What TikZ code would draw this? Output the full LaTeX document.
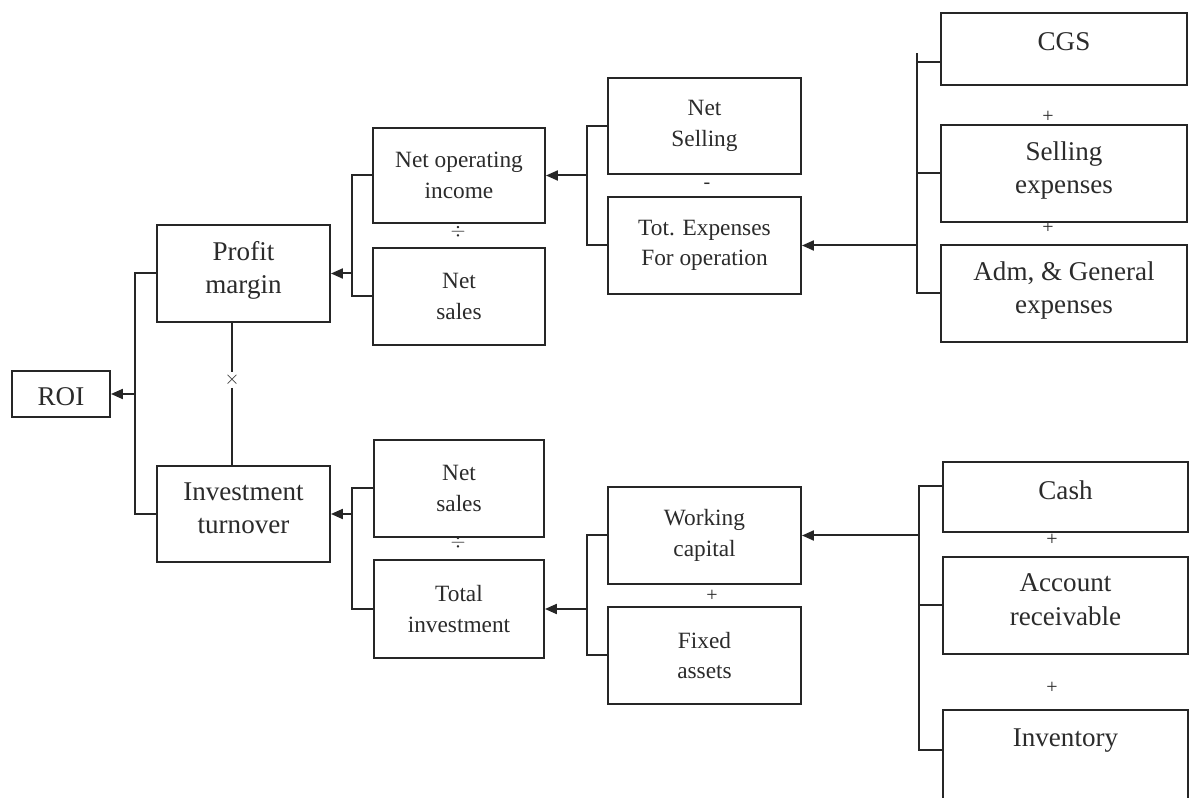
\documentclass[tikz,border=0pt]{standalone}
\usepackage{fontspec}
\setmainfont{Liberation Serif}
\usetikzlibrary{arrows.meta,calc}
\definecolor{linecol}{HTML}{262626}
\definecolor{txtcol}{HTML}{2B2B2B}
\begin{document}
\begin{tikzpicture}[x=0.75pt,y=-0.75pt,
  box/.style={draw=linecol, line width=1.4pt, rectangle, inner sep=0pt,
    align=center, text=txtcol, font=\fontsize{17.5}{23}\selectfont},
  bigbox/.style={box, font=\fontsize{20.3}{25}\selectfont, text depth=9pt},
  sz/.style n args={2}{minimum width=#1*0.75pt, minimum height=#2*0.75pt},
  wire/.style={draw=linecol, line width=1.5pt},
  arr/.style={wire, -{Triangle[length=9pt,width=7.5pt]}},
  op/.style={text=txtcol, inner sep=1pt, font=\fontsize{15}{15}\selectfont}]
\useasboundingbox (0,0) rectangle (1190,798);
\clip (0,0) rectangle (1190,798);
\fill[white] (0,0) rectangle (1190,798);

% ---- left column
\node[bigbox, sz={98}{46}, text depth=0pt, text height=17pt] (roi) at (61,394) {ROI};
\node[bigbox, sz={173}{97}] (pm)  at (243.5,273.5) {Profit\\margin};
\node[bigbox, sz={173}{96}] (it)  at (243.5,514)   {Investment\\turnover};

% ---- profit margin branch
\node[box, sz={172}{95}] (noi) at (459,175.5) {Net operating\\income};
\node[box, sz={172}{97}] (nsa) at (459,296.5) {Net\\sales};
\node[box, sz={193}{96}] (nsel) at (704.5,126) {Net\\Selling};
\node[box, sz={193}{97}] (tex) at (704.5,245.5) {Tot. Expenses\\For operation};
\node[bigbox, sz={246}{72}, text depth=10.7pt] (cgs) at (1064,49) {CGS};
\node[bigbox, sz={246}{97}] (sex) at (1064,173.5)  {Selling\\expenses};
\node[bigbox, sz={246}{97}] (adm) at (1064,293.5)  {Adm, \& General\\expenses};

% ---- investment turnover branch
\node[box, sz={170}{97}] (nsb) at (459,488.5) {Net\\sales};
\node[box, sz={170}{98}] (ti)  at (459,609)   {Total\\investment};
\node[box, sz={193}{97}] (wc)  at (704.5,535.5) {Working\\capital};
\node[box, sz={193}{97}] (fa)  at (704.5,655.5) {Fixed\\assets};
\node[bigbox, sz={245}{70}, text depth=10.7pt] (cash) at (1065.5,497) {Cash};
\node[bigbox, sz={245}{97}] (ar)   at (1065.5,605.5) {Account\\receivable};
\node[box, sz={245}{130}, anchor=north] (inv) at (1065.5,709) {};
\node[text=txtcol, font=\fontsize{20.3}{25}\selectfont] (invt)
  at ($(inv.north)+(0,32)$) {Inventory};

% ---- operators
\node[op] (mul) at (232,380) {$\times$};
\node[op] (d1) at (458,232) {$\div$};
\node[op] (d2) at (458,543) {$\div$};
\node[op] (m1) at (707,186) {-};
\node[op] (p1) at (1048,117) {+};
\node[op] (p2) at (1048,228) {+};
\node[op] (p3) at (712,596) {+};
\node[op] (p4) at (1052,540) {+};
\node[op] (p5) at (1052,688) {+};

% ---- junction points of the brackets
\coordinate (j1) at (135,394);
\coordinate (j2) at (352,273.5);
\coordinate (j3) at (587,175.5);
\coordinate (j4) at (917,245.5);
\coordinate (j5) at (352,514);
\coordinate (j6) at (587,609);
\coordinate (j7) at (919,535.5);
\coordinate (cgsin) at (941,62);
\coordinate (cashin) at (943,486);
\coordinate (invin) at (943,750);

% ROI = profit margin x investment turnover
\draw[wire] (pm.west) -| (j1) |- (it.west);
\draw[arr] (j1) -- (roi.east);
\draw[wire] (mul) -- (mul |- pm.south);
\draw[wire] (mul) -- (mul |- it.north);

% profit margin
\draw[wire] (noi.west) -| (j2) |- (nsa.west);
\draw[arr] (j2) -- (pm.east);
\draw[wire] (nsel.west) -| (j3) |- (tex.west);
\draw[arr] (j3) -- (noi.east);
\draw[wire] (cgsin) -- (cgsin -| j4) -- ++(0,-9);
\draw[wire] (cgsin -| j4) |- (adm.west);
\draw[wire] (sex.west) -- (sex.west -| j4);
\draw[arr] (j4) -- (tex.east);

% investment turnover
\draw[wire] (nsb.west) -| (j5) |- (ti.west);
\draw[arr] (j5) -- (it.east);
\draw[wire] (wc.west) -| (j6) |- (fa.west);
\draw[arr] (j6) -- (ti.east);
\draw[wire] (cashin) -| (j7) |- (invin);
\draw[wire] (ar.west) -- (ar.west -| j7);
\draw[arr] (j7) -- (wc.east);
\end{tikzpicture}
\end{document}
